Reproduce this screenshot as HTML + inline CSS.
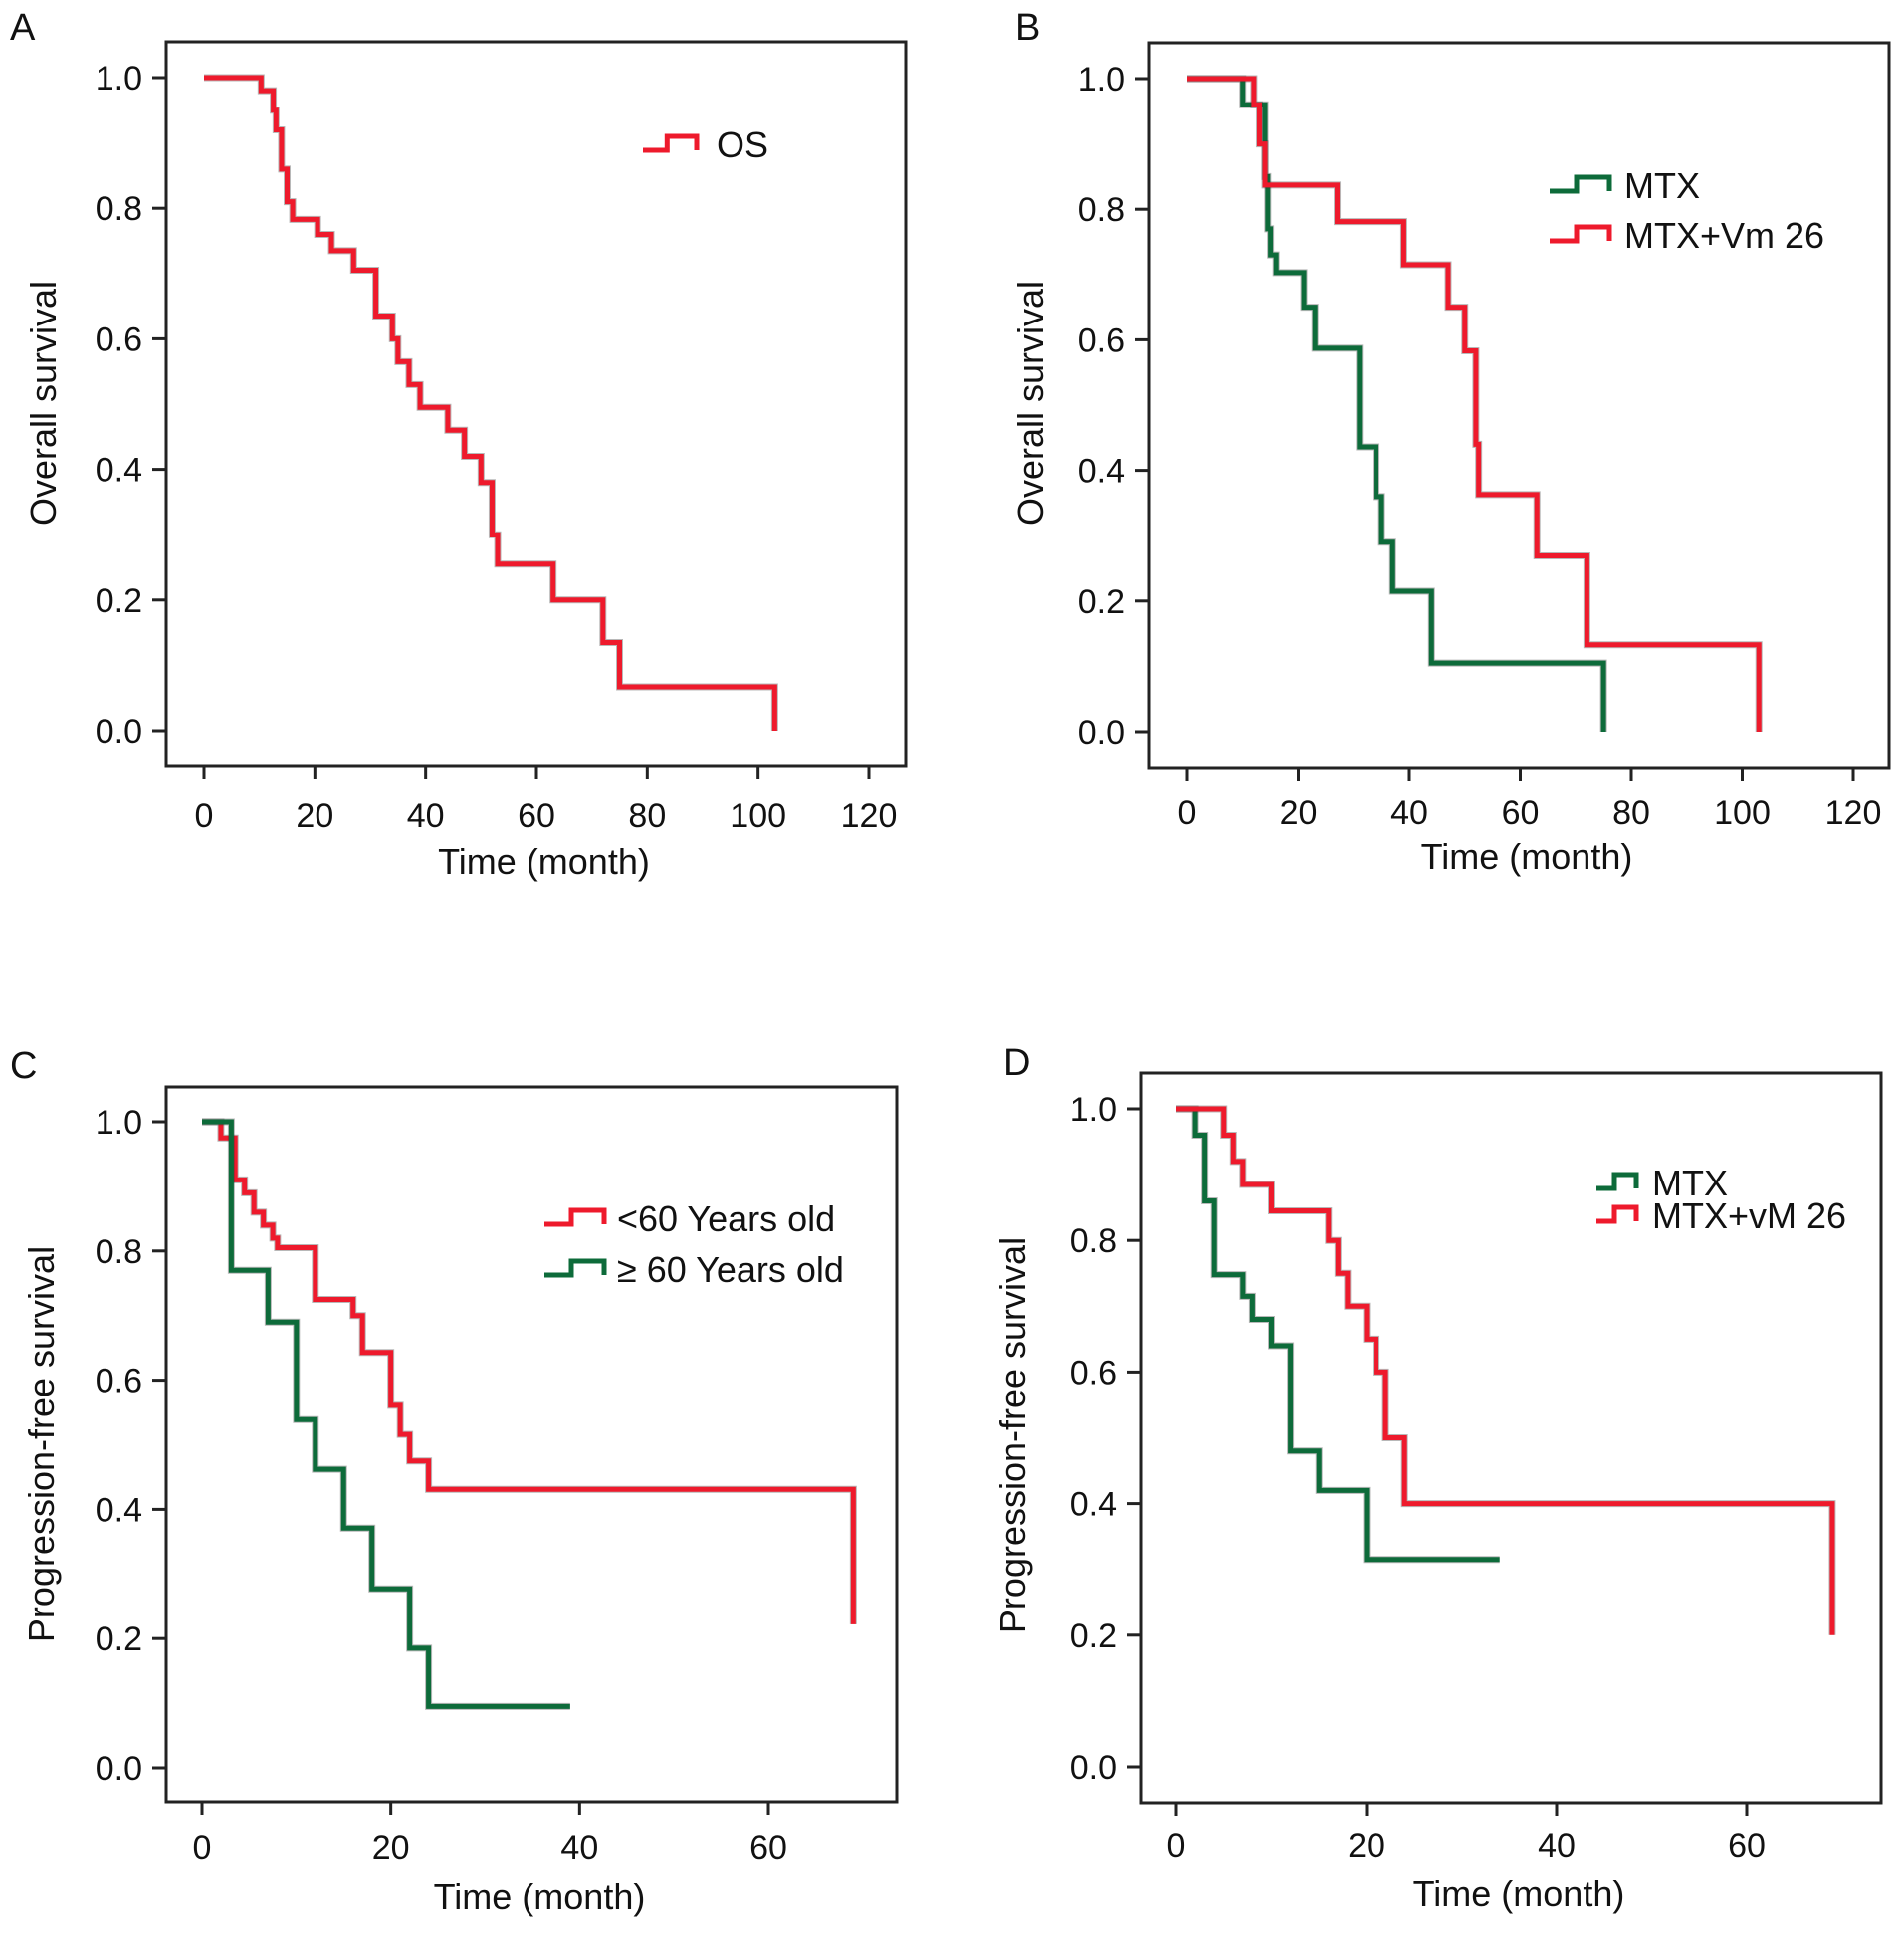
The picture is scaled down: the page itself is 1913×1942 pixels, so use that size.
<!DOCTYPE html>
<html><head><meta charset="utf-8">
<style>
html,body{margin:0;padding:0;background:#fff;}
svg{display:block;font-family:"Liberation Sans",Arial,sans-serif;}
</style></head>
<body>
<svg id="fig" width="1913" height="1942" viewBox="0 0 1913 1942" xmlns="http://www.w3.org/2000/svg"></svg>
<script>
// ---- Panel A: overall survival ----
const aTimes = [10.3,12.5,13,14,15,16,20.5,23,27,31,34,35,37,39,44,47,50,52,53,63,72,75,103];
const aSurv  = [0.98,0.95,0.92,0.86,0.81,0.783,0.76,0.735,0.705,0.635,0.60,0.565,0.53,0.495,0.46,0.42,0.38,0.30,0.255,0.20,0.135,0.067,0.0];
// ---- Panel B: OS by regimen ----
const bMtxTimes = [10,14,14.5,15,16,21,23,31,34,35,37,44,75];
const bMtxSurv  = [0.96,0.85,0.77,0.73,0.703,0.65,0.587,0.436,0.36,0.29,0.215,0.105,0.0];
const bVmTimes  = [12,13,14,27,39,47,50,52,52.5,63,72,103];
const bVmSurv   = [0.96,0.90,0.837,0.781,0.715,0.65,0.583,0.44,0.363,0.269,0.133,0.0];
// ---- Panel C: PFS by age ----
const cYoungTimes = [2,3.5,4.5,5.5,6.5,7.5,8,12,16,17,20,21,22,24,69];
const cYoungSurv  = [0.975,0.91,0.89,0.86,0.84,0.82,0.805,0.725,0.70,0.643,0.561,0.516,0.475,0.431,0.222];
const cYoungEnd = 69;
const cOldTimes = [3.1,7,10,12,15,18,22,24];
const cOldSurv  = [0.77,0.69,0.539,0.462,0.371,0.277,0.185,0.095];
const cOldEnd = 39;
// ---- Panel D: PFS by regimen ----
const dMtxTimes = [2,3,4,7,8,10,12,15,20];
const dMtxSurv  = [0.96,0.86,0.748,0.715,0.68,0.64,0.48,0.42,0.315];
const dMtxEnd = 34;
const dVmTimes  = [5,6,7,10,16,17,18,20,21,22,24,69];
const dVmSurv   = [0.96,0.92,0.885,0.845,0.80,0.75,0.70,0.65,0.60,0.50,0.40,0.20];
const dVmEnd = 69;
// ticks
const yTicks = [0.0,0.2,0.4,0.6,0.8,1.0];
const xTicks120 = [0,20,40,60,80,100,120];
const xTicks60 = [0,20,40,60];

const NS = "http://www.w3.org/2000/svg";
const svg = document.getElementById('fig');
const RED = "#ee1a2c", GREEN = "#0d6b3a";
function mk(tag, attrs, parent){
  const e = document.createElementNS(NS, tag);
  for (const k in attrs) e.setAttribute(k, attrs[k]);
  (parent||svg).appendChild(e); return e;
}
function txt(s, attrs, parent){ const t = mk('text', attrs, parent); t.textContent = s; return t; }

function panel(cfg){
  const g = mk('g', {});
  
  
  const xs = v => cfg.x0 + (cfg.x1 - cfg.x0) * v / cfg.xmax;
  const ys = v => cfg.y0 + (cfg.y1 - cfg.y0) * v;
  const fr = mk('rect', {x:cfg.L, y:cfg.T, width:cfg.R-cfg.L, height:cfg.B-cfg.T, fill:'none', stroke:'#222', 'stroke-width':3}, g);
  
  
  const lt = txt(cfg.letter, {x:cfg.lx, y:cfg.ly, 'font-size':38, fill:'#111'}, g);
  
  
  yTicks.forEach(v => {
    const y = ys(v);
    mk('line', {x1:cfg.L-14, x2:cfg.L, y1:y, y2:y, stroke:'#222', 'stroke-width':3}, g);
    const t = txt(v.toFixed(1), {x:cfg.L-24, y:y+12, 'font-size':34, 'text-anchor':'end', fill:'#111'}, g);
    
    
  });
  cfg.xticks.forEach(v => {
    const x = xs(v);
    mk('line', {x1:x, x2:x, y1:cfg.B, y2:cfg.B+13, stroke:'#222', 'stroke-width':3}, g);
    const t = txt(String(v), {x:x, y:cfg.xl, 'font-size':34, 'text-anchor':'middle', fill:'#111'}, g);
    
    
  });
  const xt = txt('Time (month)', {x:(cfg.L+cfg.R)/2 + 8, y:cfg.xtY, 'font-size':36, 'text-anchor':'middle', fill:'#111'}, g);
  
  
  const yt = txt(cfg.ytitle, {x:0, y:0, 'font-size':36, 'text-anchor':'middle', fill:'#111',
    transform:'translate(' + cfg.ytX + ',' + cfg.ytY + ') rotate(-90)'}, g);
  
  
  cfg.series.forEach(s => {
    let d = 'M' + xs(0) + ' ' + ys(1);
    s.t.forEach((t, i) => { d += ' H' + xs(t) + ' V' + ys(s.s[i]); });
    if (s.end !== undefined) d += ' H' + xs(s.end);
    mk('path', {d:d, fill:'none', stroke:'#333', 'stroke-width':7, 'stroke-linejoin':'miter', opacity:0.35}, g);
    const p = mk('path', {d:d, fill:'none', stroke:s.c, 'stroke-width':5, 'stroke-linejoin':'miter'}, g);
    
    
  });
  cfg.legend.forEach(l => {
    const w = l.x2 - l.x1, y = l.y;
    const d = 'M' + l.x1 + ' ' + (y+6) + ' H' + (l.x1 + w*0.45) + ' V' + (y-8) + ' H' + l.x2 + ' V' + (y+6);
    const p = mk('path', {d:d, fill:'none', stroke:l.c, 'stroke-width':5}, g);
    
    
    const t = txt(l.label, {x:l.tx, y:y+13, 'font-size':36, fill:'#111'}, g);
    
    
  });
}

panel({id:'a', letter:'A', lx:10, ly:40, L:167, R:910, T:42, B:770, x0:205, x1:873, xmax:120, y0:734, y1:78,
  xticks:xTicks120, xl:831, xtY:878, ytitle:'Overall survival', ytX:56, ytY:405,
  series:[{t:aTimes, s:aSurv, c:RED, name:'os-curve'}],
  legend:[{x1:646, x2:700, y:145, c:RED, tx:720, label:'OS'}]});

panel({id:'b', letter:'B', lx:1020, ly:40, L:1154, R:1898, T:43, B:772, x0:1193, x1:1862, xmax:120, y0:735, y1:79,
  xticks:xTicks120, xl:828, xtY:873, ytitle:'Overall survival', ytX:1048, ytY:405,
  series:[{t:bMtxTimes, s:bMtxSurv, c:GREEN, name:'mtx-curve'},{t:bVmTimes, s:bVmSurv, c:RED, name:'mtx-vm26-curve'}],
  legend:[{x1:1557, x2:1617, y:186, c:GREEN, tx:1632, label:'MTX'},{x1:1557, x2:1617, y:236, c:RED, tx:1632, label:'MTX+Vm 26'}]});

panel({id:'c', letter:'C', lx:10, ly:1083, L:167, R:901, T:1092, B:1810, x0:203, x1:772, xmax:60, y0:1776, y1:1127,
  xticks:xTicks60, xl:1868, xtY:1918, ytitle:'Progression-free survival', ytX:54, ytY:1451,
  series:[{t:cYoungTimes, s:cYoungSurv, end:cYoungEnd, c:RED, name:'under-60-curve'},{t:cOldTimes, s:cOldSurv, end:cOldEnd, c:GREEN, name:'over-60-curve'}],
  legend:[{x1:547, x2:607, y:1224, c:RED, tx:620, label:'<60 Years old'},{x1:547, x2:607, y:1275, c:GREEN, tx:620, label:'≥ 60 Years old'}]});

panel({id:'d', letter:'D', lx:1008, ly:1080, L:1146, R:1890, T:1078, B:1811, x0:1182, x1:1755, xmax:60, y0:1775, y1:1114,
  xticks:xTicks60, xl:1866, xtY:1915, ytitle:'Progression-free survival', ytX:1030, ytY:1442,
  series:[{t:dMtxTimes, s:dMtxSurv, end:dMtxEnd, c:GREEN, name:'mtx-pfs-curve'},{t:dVmTimes, s:dVmSurv, c:RED, name:'mtx-vm26-pfs-curve'}],
  legend:[{x1:1604, x2:1644, y:1188, c:GREEN, tx:1660, label:'MTX'},{x1:1604, x2:1644, y:1221, c:RED, tx:1660, label:'MTX+vM 26'}]});
</script>
</body></html>
